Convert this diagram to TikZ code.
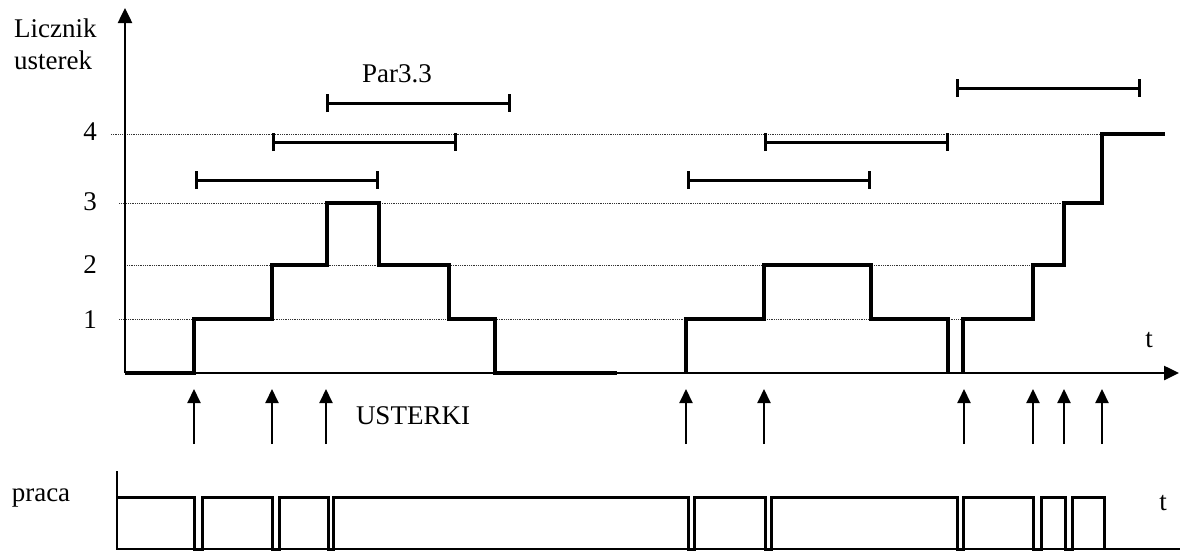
\documentclass[tikz,border=0pt]{standalone}
\usepackage{fontspec}
\setmainfont{Liberation Serif}
\usetikzlibrary{arrows.meta}
\begin{document}
\begin{tikzpicture}[x=1pt,y=-1pt,
  lbl/.style={inner sep=0pt,font=\fontsize{27}{32}\selectfont},
  axis/.style={line width=2.5pt,-{Triangle[length=15pt,width=14pt]}},
  stair/.style={line width=3.5pt,line join=miter},
  grid/.style={densely dotted,line width=0.8pt,black!80},
  span/.style={line width=3pt,{Bar[width=18pt,line width=3pt]}-{Bar[width=18pt,line width=3pt]}},
  hit/.style={line width=2pt,-{Triangle[length=14pt,width=13pt]}},
  sig/.style={line width=3pt,line join=miter}]
\useasboundingbox (0,0) rectangle (1180,554);
% grid lines
\draw[grid] (111,134) -- (1102,134);
\draw[grid] (119,203) -- (1064,203);
\draw[grid] (127,265) -- (1033,265);
\draw[grid] (119,319) -- (963,319);
% axes
\coordinate (o) at (125,373);
\coordinate (ytop) at (125,8);
\coordinate (xend) at (1179,373);
\draw[axis] (o) -- (ytop);
\draw[axis] (o) -- (xend);
% labels
\node[lbl,anchor=west] (lic) at (14,28) {Licznik};
\node[lbl,anchor=west] (ust) at (14,60) {usterek};
\node[lbl] (l4) at (90,132) {4};
\node[lbl] (l3) at (90,202) {3};
\node[lbl] (l2) at (90,265) {2};
\node[lbl] (l1) at (90,320) {1};
\node[lbl] (t1) at (1149,340) {t};
\node[lbl] (par) at (397,74) {Par3.3};
\node[lbl] (usterki) at (413,416) {USTERKI};
\node[lbl] (praca) at (41,498) {praca};
\node[lbl] (t2) at (1163,503) {t};
% staircases
\draw[stair] (125,373) -- (194,373) -- (194,319) -- (272,319) -- (272,265) -- (327,265) -- (327,203)
  -- (379,203) -- (379,265) -- (449,265) -- (449,319) -- (495,319) -- (495,373) -- (617,373);
\draw[stair] (686,373) -- (686,319) -- (764,319) -- (764,265) -- (871,265) -- (871,319) -- (948,319) -- (948,373);
\draw[stair] (963,373) -- (963,319) -- (1033,319) -- (1033,265) -- (1064,265) -- (1064,203)
  -- (1102,203) -- (1102,134) -- (1165,134);
% intervals
\draw[span] (195,180) -- (379,180);
\draw[span] (272,142) -- (457,142);
\draw[span] (326,103) -- (511,103);
\draw[span] (687,180) -- (871,180);
\draw[span] (764,142) -- (949,142);
\draw[span] (956,88) -- (1141,88);
% fault arrows
\foreach \x/\n in {194/a,272/b,326/c,686/d,764/e,964/f,1033/g,1064/h,1102/i}{
  \coordinate (s\n) at (\x,444);
  \coordinate (e\n) at (\x,389);
  \draw[hit] (s\n) -- (e\n);
}
% praca signal
\coordinate (p0) at (117,471);
\coordinate (p1) at (117,549);
\coordinate (p2) at (1180,549);
\draw[line width=2.5pt] (p0) -- (p1) -- (p2);
\draw[sig] (117,497) -- (194,497) -- (194,549) -- (202,549) -- (202,497) -- (272,497) -- (272,549)
  -- (279,549) -- (279,497) -- (328,497) -- (328,549) -- (333,549) -- (333,497) -- (688,497)
  -- (688,549) -- (694,549) -- (694,497) -- (765,497) -- (765,549) -- (771,549) -- (771,497)
  -- (957,497) -- (957,549) -- (963,549) -- (963,497) -- (1033,497) -- (1033,549) -- (1041,549)
  -- (1041,497) -- (1065,497) -- (1065,549) -- (1072,549) -- (1072,497) -- (1104,497) -- (1104,549);
\end{tikzpicture}
\end{document}
